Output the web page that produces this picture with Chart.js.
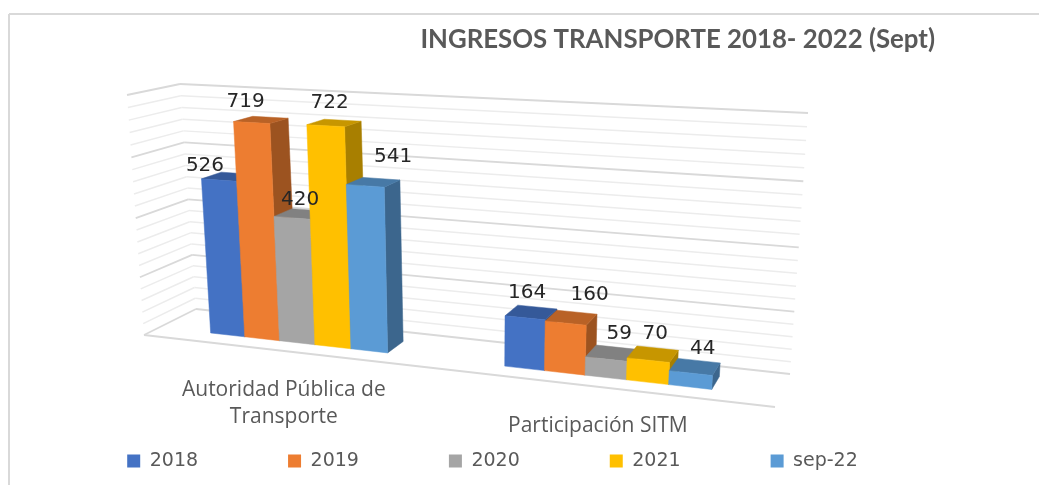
<!DOCTYPE html>
<html>
<head>
<meta charset="utf-8">
<title>Ingresos transporte</title>
<script src="https://cdn.jsdelivr.net/npm/chart.js@4/dist/chart.umd.min.js"></script>
<style>
  html, body { margin: 0; padding: 0; background: #fff; overflow: hidden; }
  canvas { display: block; }
</style>
</head>
<body>
<canvas id="ingresosChart" width="1039" height="485"></canvas>
<script>
// data
const categories = [['Autoridad Pública de', 'Transporte'], 'Participación SITM'];
const seriesNames = ['2018', '2019', '2020', '2021', 'sep-22'];
const values2018 = [526, 164];
const values2019 = [719, 160];
const values2020 = [420, 59];
const values2021 = [722, 70];
const valuesSep22 = [541, 44];
const seriesValues = [values2018, values2019, values2020, values2021, valuesSep22];

const seriesColors = ['#4472C4', '#ED7D31', '#A5A5A5', '#FFC000', '#5B9BD5'];

// the 3D box on screen: unit square (u across, v up) mapped to the front and back planes
const frontPlane = [[144, 335], [775, 407], [794, 128], [127, 95]];
const backPlane = [[196, 309], [790, 374], [808, 113], [180, 84]];
const barFront = 0.3, barBack = 0.7; // depth of the bars inside the box

// nudges of the value labels from the top of their bar, by series then category
const labelNudge = [
  [[-14, -14], [2, -25]],
  [[-6, -21], [24, -28]],
  [[8, -18], [13, -25]],
  [[4, -23], [7, -26]],
  [[28, -29], [12, -24]]
];

// homography from the unit square to a quad (bl, br, tr, tl)
function makeQuad(q) {
  const x0 = q[0][0], y0 = q[0][1], x1 = q[1][0], y1 = q[1][1];
  const x2 = q[2][0], y2 = q[2][1], x3 = q[3][0], y3 = q[3][1];
  const dx1 = x1 - x2, dx2 = x3 - x2, sx = x0 - x1 + x2 - x3;
  const dy1 = y1 - y2, dy2 = y3 - y2, sy = y0 - y1 + y2 - y3;
  const den = dx1 * dy2 - dx2 * dy1;
  const g = (sx * dy2 - dx2 * sy) / den;
  const h = (dx1 * sy - sx * dy1) / den;
  const a = x1 - x0 + g * x1, b = x3 - x0 + h * x3;
  const d = y1 - y0 + g * y1, e = y3 - y0 + h * y3;
  return function (u, v) {
    const k = g * u + h * v + 1;
    return [(a * u + b * v + x0) / k, (d * u + e * v + y0) / k];
  };
}

const onFront = makeQuad(frontPlane);
const onBack = makeQuad(backPlane);

function project(u, v, w) {
  const f = onFront(u, v), b = onBack(u, v);
  return [f[0] + (b[0] - f[0]) * w, f[1] + (b[1] - f[1]) * w];
}

function shade(hex, k) {
  const n = parseInt(hex.slice(1), 16);
  const r = Math.round((n >> 16) * k), g = Math.round(((n >> 8) & 255) * k), b = Math.round((n & 255) * k);
  return 'rgb(' + r + ',' + g + ',' + b + ')';
}

function strokeLine(ctx, a, b, color, width) {
  ctx.beginPath();
  ctx.moveTo(a[0], a[1]);
  ctx.lineTo(b[0], b[1]);
  ctx.strokeStyle = color;
  ctx.lineWidth = width;
  ctx.stroke();
}

function fillFace(ctx, pts, color) {
  ctx.beginPath();
  pts.forEach(function (p, i) {
    if (i === 0) ctx.moveTo(p[0], p[1]); else ctx.lineTo(p[0], p[1]);
  });
  ctx.closePath();
  ctx.fillStyle = color;
  ctx.fill();
  ctx.strokeStyle = color;
  ctx.lineWidth = 0.5;
  ctx.stroke();
}

const box3d = {
  id: 'box3d',
  afterLayout(chart) {
    // legend padding sets the item spacing, so put its row back where it belongs
    const legend = chart.legend;
    legend.top = 461 - legend.options.labels.font.size / 2 - legend.options.labels.padding;
    legend.left += 25;
    legend.right += 25;
  },
  beforeDatasetsDraw(chart) {
    const ctx = chart.ctx, area = chart.chartArea;
    const yScale = chart.scales.y, xScale = chart.scales.x;
    const toU = px => (px - area.left) / area.width;
    const toV = py => (area.bottom - py) / area.height;

    ctx.save();

    // frame of the picture
    strokeLine(ctx, [9, 14], [1039, 14], '#d9d9d9', 2);
    strokeLine(ctx, [9, 14], [9, 485], '#d9d9d9', 2);

    // walls
    yScale.ticks.forEach(function (t) {
      const v = toV(yScale.getPixelForValue(t.value));
      const major = t.value % 200 === 0;
      const color = major ? '#d9d9d9' : '#ececec';
      const width = major ? 1.8 : 1.5;
      strokeLine(ctx, project(0, v, 0), project(0, v, 1), color, width);
      strokeLine(ctx, project(0, v, 1), project(1, v, 1), color, width);
    });
    // floor front edge
    strokeLine(ctx, project(0, 0, 0), project(1, 0, 0), '#d9d9d9', 1.8);

    // bars, left to right so each front covers the side of the one before
    const labelsToDraw = [];
    categories.forEach(function (cat, c) {
      seriesValues.forEach(function (vals, s) {
        const bar = chart.getDatasetMeta(s).data[c];
        const u0 = toU(bar.x - bar.width / 2), u1 = toU(bar.x + bar.width / 2);
        const v0 = toV(bar.base), v1 = toV(bar.y);
        const color = seriesColors[s];

        fillFace(ctx, [project(u1, v0, barFront), project(u1, v0, barBack),
                       project(u1, v1, barBack), project(u1, v1, barFront)], shade(color, 0.66));
        fillFace(ctx, [project(u0, v1, barFront), project(u1, v1, barFront),
                       project(u1, v1, barBack), project(u0, v1, barBack)], shade(color, 0.78));
        fillFace(ctx, [project(u0, v0, barFront), project(u1, v0, barFront),
                       project(u1, v1, barFront), project(u0, v1, barFront)], color);

        const top = project((u0 + u1) / 2, v1, barFront);
        labelsToDraw.push([String(vals[c]), top[0] + labelNudge[s][c][0], top[1] + labelNudge[s][c][1]]);
      });
    });

    // value labels
    ctx.font = '20px "DejaVu Sans"';
    ctx.fillStyle = '#262626';
    ctx.textAlign = 'center';
    ctx.textBaseline = 'middle';
    labelsToDraw.forEach(l => ctx.fillText(l[0], l[1], l[2]));

    // category labels
    ctx.font = '21px "Open Sans"';
    ctx.fillStyle = '#595959';
    categories.forEach(function (cat, c) {
      const p = project(toU(xScale.getPixelForValue(c)), 0, 0);
      const lines = Array.isArray(cat) ? cat : [cat];
      lines.forEach((line, i) => ctx.fillText(line, p[0], p[1] + 39 + i * 27));
    });

    ctx.restore();
    return false; // the flat bars are replaced by the faces above
  }
};

const ctx = document.getElementById('ingresosChart').getContext('2d');
new Chart(ctx, {
  type: 'bar',
  data: {
    labels: categories,
    datasets: seriesNames.map((name, i) => ({
      label: name,
      data: seriesValues[i],
      backgroundColor: seriesColors[i],
      borderWidth: 0
    }))
  },
  options: {
    responsive: false,
    animation: false,
    events: [],
    layout: { padding: { left: 0, right: 104, top: 24, bottom: 0 } },
    datasets: { bar: { categoryPercentage: 0.62, barPercentage: 1 } },
    scales: {
      x: { display: false },
      y: { display: false, min: 0, max: 800, ticks: { stepSize: 40, autoSkip: false } }
    },
    plugins: {
      tooltip: { enabled: false },
      title: {
        display: true,
        align: 'end',
        text: 'INGRESOS TRANSPORTE 2018- 2022 (Sept)',
        color: '#595959',
        font: { family: 'Lato', size: 25.8, weight: 'bold' },
        padding: { top: 0, bottom: 0 }
      },
      legend: {
        position: 'bottom',
        labels: {
          boxWidth: 13,
          boxHeight: 13,
          padding: 90,
          color: '#595959',
          font: { family: 'DejaVu Sans', size: 19 }
        }
      }
    }
  },
  plugins: [box3d]
});
</script>
</body>
</html>
